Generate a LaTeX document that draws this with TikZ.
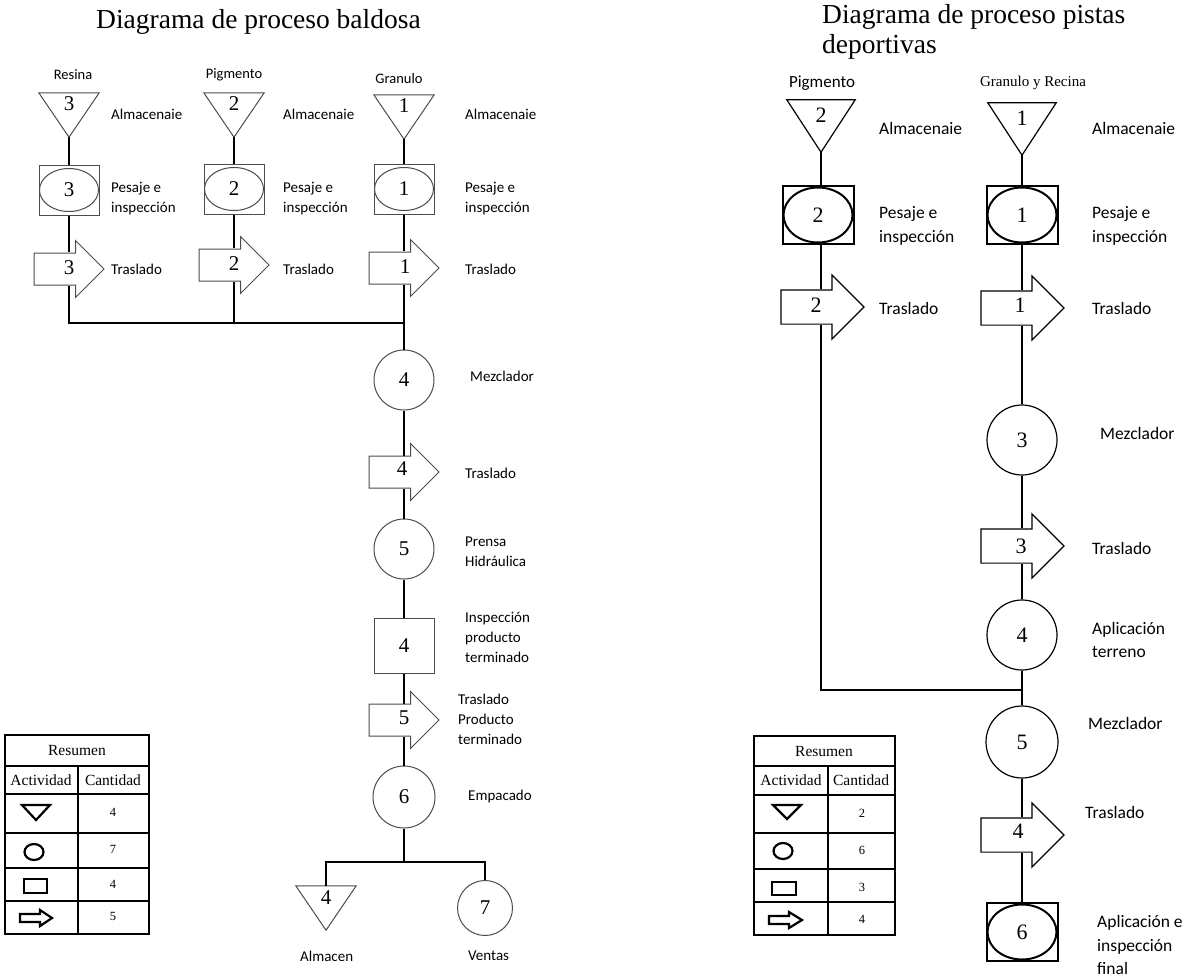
\documentclass[tikz,border=0pt]{standalone}
\usepackage{fontspec}
\setmainfont{Liberation Serif}
\newfontfamily\labfont{Carlito}
\usetikzlibrary{shapes.geometric,shapes.arrows}

\begin{document}
\begin{tikzpicture}[x=1pt,y=-1pt,
  conn/.style={line width=1.8pt, black},
  % left chart (baldosa)
  lshape/.style={draw=black!70, line width=1pt, fill=white, inner sep=0pt},
  lnum/.style={font=\fontsize{21}{21}\selectfont},
  ltri/.style={inner sep=0pt, minimum width=60pt, text height=18pt, text depth=26pt, lnum},
  lcirc/.style={lshape, circle, minimum size=60pt, lnum},
  lbox/.style={lshape, rectangle, minimum width=60pt, minimum height=50pt},
  lell/.style={lshape, ellipse, minimum width=59pt, minimum height=43pt, lnum},
  larr/.style={lshape, single arrow, single arrow head extend=12.5pt,
    single arrow tip angle=90, minimum height=70pt, text height=20pt,
    text depth=11pt, inner xsep=0pt, inner ysep=0pt, lnum, xshift=-8pt},
  lanum/.style={lnum, inner sep=0pt},
  llab/.style={font=\labfont\fontsize{15}{20}\selectfont, anchor=west, align=left, inner sep=0pt},
  ltop/.style={font=\labfont\fontsize{14.5}{17}\selectfont, inner sep=0pt},
  % right chart (pistas deportivas)
  rshape/.style={draw=black, line width=1.2pt, fill=white, inner sep=0pt},
  rnum/.style={font=\fontsize{22}{22}\selectfont},
  rtri/.style={inner sep=0pt, minimum width=68pt, text height=23pt, text depth=29pt, rnum},
  rcirc/.style={rshape, circle, minimum size=70pt, rnum},
  rbox/.style={rshape, line width=2pt, rectangle, minimum width=71pt, minimum height=58pt},
  rell/.style={rshape, line width=2pt, ellipse, minimum width=69pt, minimum height=55pt, rnum},
  rarr/.style={rshape, single arrow, single arrow head extend=15pt,
    single arrow tip angle=90, minimum height=83pt, text height=21pt,
    text depth=12pt, inner xsep=0pt, inner ysep=0pt, rnum, xshift=-8pt},
  ranum/.style={rnum, inner sep=0pt},
  rlab/.style={font=\labfont\fontsize{17.5}{23.5}\selectfont, anchor=west, align=left, inner sep=0pt},
  % titles and summary tables
  ttl/.style={font=\fontsize{27.5}{30}\selectfont, anchor=base west, inner sep=0pt},
  tbl/.style={line width=1.8pt, black},
  thead/.style={font=\fontsize{15.5}{17}\selectfont, inner sep=0pt},
  tnum/.style={font=\fontsize{12.5}{14}\selectfont, inner sep=0pt},
  tsym/.style={line width=2.2pt, black},
]
\useasboundingbox (0,0) rectangle (1188,979);
\fill[white] (0,0) rectangle (1188,979);

% ================= Diagrama de proceso baldosa =================
\node[ttl] (title1) at (96,29) {Diagrama de proceso baldosa};

\node[ltop] (nres) at (73,75) {Resina};
\node[ltop] (npig) at (234,75) {Pigmento};
\node[ltop] (ngra) at (399,79) {Granulo};

% storage triangles
\node[ltri] (ta) at (69,115) {3};
\node[ltri] (tb) at (234,115) {2};
\node[ltri] (tc) at (404,117) {1};
\foreach \t in {ta,tb,tc}
  \draw[lshape, fill=none] (\t.north west) -- (\t.north east) -- (\t.south) -- cycle;

% weighing and inspection
\node[lbox] (sa) at (69,190) {};
\node[lell] (ea) at (69,190) {3};
\node[lbox] (sb) at (234,189) {};
\node[lell] (eb) at (234,189) {2};
\node[lbox] (sc) at (404,189) {};
\node[lell] (ec) at (404,189) {1};

% transport (arrow body, then its number on the column axis)
\node[larr] (aa) at (69,269) {\phantom{0}};
\node[lanum] (naa) at (69,268) {3};
\node[larr] (ab) at (234,265) {\phantom{0}};
\node[lanum] (nab) at (234,264) {2};
\node[larr] (ac) at (404,268) {\phantom{0}};
\node[lanum] (nac) at (405,267) {1};

\coordinate (j1) at (404,323);

\node[lcirc] (m4) at (404,380) {4};
\node[larr] (a4) at (404,472) {\phantom{0}};
\node[lanum] (na4) at (402,469) {4};
\node[lcirc] (c5) at (404,549) {5};
\node[lshape, rectangle, minimum width=60pt, minimum height=55pt, lnum] (b4) at (404,646) {4};
\node[larr] (a5) at (404,720) {\phantom{0}};
\node[lanum] (na5) at (404,718) {5};
\node[lcirc, minimum size=62pt] (c6) at (404,797) {6};

\coordinate (j3) at (404,862);
\node[ltri] (t4) at (326,908) {4};
\draw[lshape, fill=none] (t4.north west) -- (t4.north east) -- (t4.south) -- cycle;
\node[lcirc, minimum size=55pt] (c7) at (485,908) {7};

% connectors
\draw[conn] (ta.south) -- (sa);
\draw[conn] (tb.south) -- (sb);
\draw[conn] (tc.south) -- (sc);
\draw[conn] (sa) -- (sa |- aa.north);
\draw[conn] (sb) -- (sb |- ab.north);
\draw[conn] (sc) -- (sc |- ac.north);
\draw[conn] (aa.south -| sa) |- (j1);
\draw[conn] (ab.south -| sb) -- (sb |- j1);
\draw[conn] (ac.south -| sc) -- (j1) -- (m4);
\draw[conn] (m4) -- (m4 |- a4.north);
\draw[conn] (a4.south -| m4) -- (c5);
\draw[conn] (c5) -- (b4);
\draw[conn] (b4) -- (b4 |- a5.north);
\draw[conn] (a5.south -| b4) -- (c6);
\draw[conn] (c6) -- (j3);
\draw[conn] (t4.north) |- (j3) -| (c7);

% labels
\node[llab] (la1) at (111,114) {Almacenaie};
\node[llab] (la2) at (283,114) {Almacenaie};
\node[llab] (la3) at (465,114) {Almacenaie};
\node[llab] (lp1) at (111,199) {Pesaje e\\inspección};
\node[llab] (lp2) at (283,199) {Pesaje e\\inspección};
\node[llab] (lp3) at (465,199) {Pesaje e\\inspección};
\node[llab] (lt1) at (111,269) {Traslado};
\node[llab] (lt2) at (283,269) {Traslado};
\node[llab] (lt3) at (465,269) {Traslado};
\node[llab] (lmz) at (470,376) {Mezclador};
\node[llab] (lt4) at (465,473) {Traslado};
\node[llab] (lph) at (465,552) {Prensa\\Hidráulica};
\node[llab] (lip) at (465,637) {Inspección\\producto\\terminado};
\node[llab] (ltp) at (458,719) {Traslado\\Producto\\terminado};
\node[llab] (lem) at (468,796) {Empacado};
\node[llab] (lal) at (300,956) {Almacen};
\node[llab] (lve) at (468,956) {Ventas};

% summary table
\draw[tbl] (5,735) rectangle (149,934);
\foreach \y in {766,794,833,868,901} \draw[tbl] (5,\y) -- (149,\y);
\draw[tbl] (78,766) -- (78,934);
\node[thead] (r1h) at (77,750) {Resumen};
\node[thead] (r1a) at (41,780) {Actividad};
\node[thead] (r1c) at (113,780) {Cantidad};
\draw[tsym] (22,805) -- (50,805) -- (36,820) -- cycle;
\draw[tsym] (34,852) ellipse (9.5 and 8);
\draw[tsym] (24,879) rectangle (47,893);
\draw[tsym] (20,914) -- (40,914) -- (40,910) -- (52,918) -- (40,926) -- (40,922) -- (20,922) -- cycle;
\node[tnum] (r1n1) at (113,812) {4};
\node[tnum] (r1n2) at (113,849) {7};
\node[tnum] (r1n3) at (113,884) {4};
\node[tnum] (r1n4) at (113,916) {5};

% ================= Diagrama de proceso pistas deportivas =================
\node[ttl] (title2a) at (822,24) {Diagrama de proceso pistas};
\node[ttl] (title2b) at (822,54) {deportivas};

\node[font=\labfont\fontsize{17}{20}\selectfont, inner sep=0pt] (npig2) at (822,83) {Pigmento};
\node[font=\fontsize{15}{17}\selectfont, inner sep=0pt] (ngr2) at (1033,83) {Granulo y Recina};

\node[rtri] (td) at (821,126) {2};
\node[rtri] (te) at (1022,129) {1};
\foreach \t in {td,te}
  \draw[rshape, fill=none] (\t.north west) -- (\t.north east) -- (\t.south) -- cycle;

\node[rbox] (sd) at (818,215) {};
\node[rell] (ed) at (818,215) {2};
\node[rbox] (se) at (1022,215) {};
\node[rell] (ee) at (1022,215) {1};

\node[rarr] (ad) at (822,307) {\phantom{0}};
\node[ranum] (nad) at (816,305) {2};
\node[rarr] (ae) at (1022,308) {\phantom{0}};
\node[ranum] (nae) at (1020,305) {1};

\node[rcirc] (r3) at (1022,440) {3};
\node[rarr] (ra3) at (1022,546) {\phantom{0}};
\node[ranum] (nr3) at (1021,546) {3};
\node[rcirc] (r4) at (1022,635) {4};
\coordinate (j2) at (1022,690);
\node[rcirc, minimum size=72pt] (r5) at (1022,742) {5};
\node[rarr] (ra4) at (1022,835) {\phantom{0}};
\node[ranum] (nr4) at (1018,831) {4};
\node[rbox] (s6) at (1022,932) {};
\node[rell] (e6) at (1022,932) {6};

\draw[conn] (td.south) -- (sd.north -| td.south);
\draw[conn] (te.south) -- (se);
\draw[conn] (sd.south -| td.south) -- (td.south |- ad.north);
\draw[conn] (se) -- (se |- ae.north);
\draw[conn] (ad.south -| td.south) |- (j2);
\draw[conn] (ae.south -| se) -- (r3);
\draw[conn] (r3) -- (r3 |- ra3.north);
\draw[conn] (ra3.south -| r3) -- (r4);
\draw[conn] (r4) -- (j2) -- (r5);
\draw[conn] (r5) -- (r5 |- ra4.north);
\draw[conn] (ra4.south -| r5) -- (s6);

\node[rlab] (ra1) at (879,128) {Almacenaie};
\node[rlab] (ra2) at (1092,128) {Almacenaie};
\node[rlab] (rp1) at (879,226) {Pesaje e\\inspección};
\node[rlab] (rp2) at (1092,226) {Pesaje e\\inspección};
\node[rlab] (rt1) at (879,308) {Traslado};
\node[rlab] (rt2) at (1092,308) {Traslado};
\node[rlab] (rmz) at (1100,433) {Mezclador};
\node[rlab] (rt3) at (1092,548) {Traslado};
\node[rlab] (rat) at (1092,640) {Aplicación\\terreno};
\node[rlab] (rmz2) at (1088,723) {Mezclador};
\node[rlab] (rt4) at (1085,812) {Traslado};
\node[rlab] (rai) at (1097,945) {Aplicación e\\inspección\\final};

% summary table
\draw[tbl] (754,736) rectangle (895,935);
\foreach \y in {766,795,833,869,902} \draw[tbl] (754,\y) -- (895,\y);
\draw[tbl] (828,766) -- (828,935);
\node[thead] (r2h) at (824,751) {Resumen};
\node[thead] (r2a) at (791,780) {Actividad};
\node[thead] (r2c) at (861,780) {Cantidad};
\draw[tsym] (773,805) -- (801,805) -- (787,819) -- cycle;
\draw[tsym] (783,851) ellipse (9.5 and 8);
\draw[tsym] (772,882) rectangle (796,895);
\draw[tsym] (769,916) -- (789,916) -- (789,912) -- (802,920) -- (789,928) -- (789,924) -- (769,924) -- cycle;
\node[tnum] (r2n1) at (862,813) {2};
\node[tnum] (r2n2) at (862,850) {6};
\node[tnum] (r2n3) at (862,887) {3};
\node[tnum] (r2n4) at (862,919) {4};
\end{tikzpicture}
\end{document}
